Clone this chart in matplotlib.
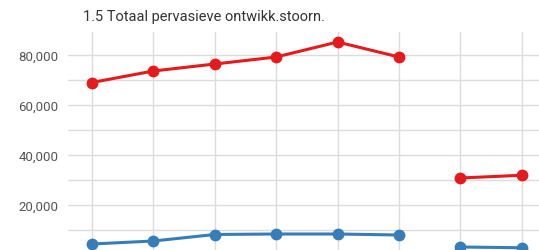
import numpy as np
import matplotlib.pyplot as plt

plt.rcParams['font.family'] = ['Roboto', 'DejaVu Sans']

# waarden per periode (8 posities, lijn breekt na de 6e)
posities = np.arange(8)
rood = [69000, 73600, 76400, 79200, 85200, 79200, 30800, 31900]
blauw = [4400, 5600, 8200, 8400, 8400, 8000, 3200, 2900]
titel = '1.5 Totaal pervasieve ontwikk.stoorn.'
y_ticks = [0, 20000, 40000, 60000, 80000]

fig = plt.figure(figsize=(5.39, 2.51), dpi=100)
ax = fig.add_axes([68 / 539, (251 - 256) / 251, (539 - 68) / 539, (256 - 33) / 251])

for reeks, kleur in [(rood, '#e41a1c'), (blauw, '#377eb8')]:
    ax.plot(posities[:6], reeks[:6], color=kleur, lw=2.2, marker='o', ms=7.5, zorder=3)
    ax.plot(posities[6:], reeks[6:], color=kleur, lw=2.2, marker='o', ms=7.5, zorder=3)

ax.set_xlim(-0.39, 7.28)
ax.set_ylim(0, 89200)
ax.set_xticks(posities)
ax.set_xticklabels([])
ax.set_yticks(y_ticks)
ax.set_yticklabels([f'{v:,}' for v in y_ticks])
ax.set_yticks(np.arange(10000, 90000, 20000), minor=True)
ax.grid(True, which='both', color='#dcdcdc', lw=1)
ax.tick_params(length=0, labelsize=9.5, labelcolor='#555555', pad=7)
ax.tick_params(which='minor', length=0)
for s in ax.spines.values():
    s.set_visible(False)

fig.text(83 / 539, 1 - 21 / 251, titel, fontsize=10.5, color='#333333')

fig.savefig('out.png', dpi=100)
